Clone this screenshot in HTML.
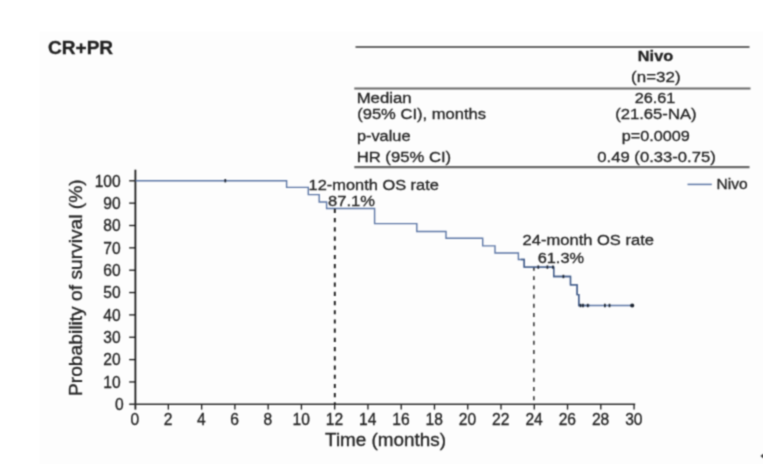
<!DOCTYPE html>
<html><head><meta charset="utf-8"><title>CR+PR OS</title>
<style>
html,body{margin:0;padding:0;background:#ffffff;}
body{width:763px;height:464px;overflow:hidden;font-family:"Liberation Sans",sans-serif;}
svg{display:block;}
</style></head><body>
<svg width="763" height="464" viewBox="0 0 763 464">
<rect x="0" y="0" width="763" height="464" fill="#ffffff"/>
<rect x="39.5" y="31.5" width="724" height="433" fill="#fdfdfd"/>
<defs><filter id="soft" filterUnits="userSpaceOnUse" x="0" y="0" width="763" height="464" color-interpolation-filters="sRGB">
<feConvolveMatrix order="3" kernelMatrix="0.04387 0.12171 0.04387 0.12171 0.33767 0.12171 0.04387 0.12171 0.04387" divisor="1" bias="0" edgeMode="duplicate" preserveAlpha="false"/>
</filter></defs>
<g filter="url(#soft)">
<g fill="#222222" stroke="#222222" stroke-width="0.3" font-family="Liberation Sans, sans-serif">
<text id="t_title" x="47.99" y="53.60" font-size="18" font-weight="bold" textLength="65.12" lengthAdjust="spacingAndGlyphs">CR+PR</text>
<text id="t_nivo" x="637.87" y="60.80" font-size="14" font-weight="bold" textLength="35.26" lengthAdjust="spacingAndGlyphs">Nivo</text>
<text id="t_n" x="631.14" y="82.00" font-size="15.5" font-weight="normal" textLength="49.51" lengthAdjust="spacingAndGlyphs">(n=32)</text>
<text id="t_med" x="356.65" y="103.30" font-size="15.5" font-weight="normal" textLength="54.94" lengthAdjust="spacingAndGlyphs">Median</text>
<text id="t_2661" x="634.67" y="103.30" font-size="15.5" font-weight="normal" textLength="40.77" lengthAdjust="spacingAndGlyphs">26.61</text>
<text id="t_ci" x="357.18" y="119.30" font-size="15.5" font-weight="normal" textLength="128.88" lengthAdjust="spacingAndGlyphs">(95% CI), months</text>
<text id="t_civ" x="615.16" y="119.30" font-size="15.5" font-weight="normal" textLength="81.42" lengthAdjust="spacingAndGlyphs">(21.65-NA)</text>
<text id="t_p" x="356.90" y="141.00" font-size="15.5" font-weight="normal" textLength="53.62" lengthAdjust="spacingAndGlyphs">p-value</text>
<text id="t_pv" x="621.73" y="141.00" font-size="15.5" font-weight="normal" textLength="68.13" lengthAdjust="spacingAndGlyphs">p=0.0009</text>
<text id="t_hr" x="356.67" y="161.70" font-size="15.5" font-weight="normal" textLength="94.49" lengthAdjust="spacingAndGlyphs">HR (95% CI)</text>
<text id="t_hrv" x="597.35" y="161.70" font-size="15.5" font-weight="normal" textLength="118.36" lengthAdjust="spacingAndGlyphs">0.49 (0.33-0.75)</text>
<text id="t_xl" x="325.10" y="446.40" font-size="18" font-weight="normal" textLength="120.96" lengthAdjust="spacingAndGlyphs">Time (months)</text>
<text id="t_leg" x="716.52" y="189.20" font-size="15" font-weight="normal" textLength="31.10" lengthAdjust="spacingAndGlyphs">Nivo</text>
<text id="t_a1" x="308.63" y="190.40" font-size="15.5" font-weight="normal" textLength="130.23" lengthAdjust="spacingAndGlyphs">12-month OS rate</text>
<text id="t_a2" x="328.09" y="206.40" font-size="15.5" font-weight="normal" textLength="46.93" lengthAdjust="spacingAndGlyphs">87.1%</text>
<text id="t_a3" x="522.64" y="244.80" font-size="15.5" font-weight="normal" textLength="131.31" lengthAdjust="spacingAndGlyphs">24-month OS rate</text>
<text id="t_a4" x="537.68" y="263.40" font-size="15.5" font-weight="normal" textLength="46.38" lengthAdjust="spacingAndGlyphs">61.3%</text>
<text x="120.70" y="186.60" font-size="15.6" text-anchor="end">100</text>
<text x="120.70" y="208.95" font-size="15.6" text-anchor="end">90</text>
<text x="120.70" y="231.30" font-size="15.6" text-anchor="end">80</text>
<text x="120.70" y="253.65" font-size="15.6" text-anchor="end">70</text>
<text x="120.70" y="276.00" font-size="15.6" text-anchor="end">60</text>
<text x="120.70" y="298.35" font-size="15.6" text-anchor="end">50</text>
<text x="120.70" y="320.70" font-size="15.6" text-anchor="end">40</text>
<text x="120.70" y="343.05" font-size="15.6" text-anchor="end">30</text>
<text x="120.70" y="365.40" font-size="15.6" text-anchor="end">20</text>
<text x="120.70" y="387.75" font-size="15.6" text-anchor="end">10</text>
<text x="123.80" y="410.10" font-size="15.6" text-anchor="end">0</text>
<text x="134.90" y="424.9" font-size="15.6" text-anchor="middle">0</text>
<text x="168.16" y="424.9" font-size="15.6" text-anchor="middle">2</text>
<text x="201.43" y="424.9" font-size="15.6" text-anchor="middle">4</text>
<text x="234.69" y="424.9" font-size="15.6" text-anchor="middle">6</text>
<text x="267.96" y="424.9" font-size="15.6" text-anchor="middle">8</text>
<text x="301.22" y="424.9" font-size="15.6" text-anchor="middle">10</text>
<text x="334.48" y="424.9" font-size="15.6" text-anchor="middle">12</text>
<text x="367.75" y="424.9" font-size="15.6" text-anchor="middle">14</text>
<text x="401.01" y="424.9" font-size="15.6" text-anchor="middle">16</text>
<text x="434.28" y="424.9" font-size="15.6" text-anchor="middle">18</text>
<text x="467.54" y="424.9" font-size="15.6" text-anchor="middle">20</text>
<text x="500.80" y="424.9" font-size="15.6" text-anchor="middle">22</text>
<text x="534.07" y="424.9" font-size="15.6" text-anchor="middle">24</text>
<text x="567.33" y="424.9" font-size="15.6" text-anchor="middle">26</text>
<text x="600.60" y="424.9" font-size="15.6" text-anchor="middle">28</text>
<text x="633.86" y="424.9" font-size="15.6" text-anchor="middle">30</text>
<text id="t_yl" transform="translate(81.6,396.07) rotate(-90)" font-size="18" textLength="216.83" lengthAdjust="spacingAndGlyphs">Probability of survival (%)</text>
</g>
<g stroke="#686868" stroke-width="2.2" fill="none">
<line x1="355.5" y1="47" x2="749.5" y2="47"/>
<line x1="354.3" y1="88.5" x2="750.5" y2="88.5"/>
<line x1="354.3" y1="167.1" x2="749.5" y2="167.1"/>
</g>
<g stroke="#161616" stroke-width="1.3" fill="none">
<line x1="135.4" y1="169.7" x2="135.4" y2="409.6" stroke-width="1.75"/>
<line x1="129.2" y1="404.30" x2="635.2" y2="404.30" stroke-width="1.4" stroke="#2c2c2c"/>
<line x1="129.2" y1="180.80" x2="135.4" y2="180.80"/>
<line x1="129.2" y1="203.15" x2="135.4" y2="203.15"/>
<line x1="129.2" y1="225.50" x2="135.4" y2="225.50"/>
<line x1="129.2" y1="247.85" x2="135.4" y2="247.85"/>
<line x1="129.2" y1="270.20" x2="135.4" y2="270.20"/>
<line x1="129.2" y1="292.55" x2="135.4" y2="292.55"/>
<line x1="129.2" y1="314.90" x2="135.4" y2="314.90"/>
<line x1="129.2" y1="337.25" x2="135.4" y2="337.25"/>
<line x1="129.2" y1="359.60" x2="135.4" y2="359.60"/>
<line x1="129.2" y1="381.95" x2="135.4" y2="381.95"/>
<line x1="168.36" y1="404.30" x2="168.36" y2="409.6"/>
<line x1="201.63" y1="404.30" x2="201.63" y2="409.6"/>
<line x1="234.89" y1="404.30" x2="234.89" y2="409.6"/>
<line x1="268.16" y1="404.30" x2="268.16" y2="409.6"/>
<line x1="301.42" y1="404.30" x2="301.42" y2="409.6"/>
<line x1="334.68" y1="404.30" x2="334.68" y2="409.6"/>
<line x1="367.95" y1="404.30" x2="367.95" y2="409.6"/>
<line x1="401.21" y1="404.30" x2="401.21" y2="409.6"/>
<line x1="434.48" y1="404.30" x2="434.48" y2="409.6"/>
<line x1="467.74" y1="404.30" x2="467.74" y2="409.6"/>
<line x1="501.00" y1="404.30" x2="501.00" y2="409.6"/>
<line x1="534.27" y1="404.30" x2="534.27" y2="409.6"/>
<line x1="567.53" y1="404.30" x2="567.53" y2="409.6"/>
<line x1="600.80" y1="404.30" x2="600.80" y2="409.6"/>
<line x1="634.06" y1="404.30" x2="634.06" y2="409.6"/>
</g>
<path d="M135.5 180.7 L286.6 180.7 L286.6 187.4 L308.3 187.4 L308.3 194.6 L319.2 194.6 L319.2 202.0 L326.6 202.0 L326.6 208.5 L374.6 208.5 L374.6 223.6 L416.8 223.6 L416.8 231.5 L446.0 231.5 L446.0 238.2 L482.7 238.2 L482.7 245.9 L495.0 245.9 L495.0 253.0 L518.4 253.0 L518.4 259.5 L524.2 259.5 L524.2 267.1 L553.7 267.1 L553.7 276.5 L570.5 276.5 L570.5 284.9 L577.1 284.9 L577.1 294.6 L578.8 294.6 L578.8 305.5 L632.3 305.5" stroke="#5d77a6" stroke-width="1.4" fill="none" stroke-linejoin="miter"/>
<line x1="687.5" y1="184.4" x2="711.8" y2="184.4" stroke="#5d77a6" stroke-width="1.5"/>
<line x1="334.8" y1="208.8" x2="334.8" y2="404.3" stroke="#1a1a1a" stroke-width="1.9" stroke-dasharray="4.2 5.015"/>
<line x1="533.9" y1="266.9" x2="533.9" y2="404.3" stroke="#1c1c1c" stroke-width="1.4" stroke-dasharray="3.9 5.34"/>
<path d="M521 259.5 H524.2 V267.1 H553.7 V276.5 H570.5 V284.9 H577.1 V294.6 H578.8 V305.5 H590" stroke="#425c88" stroke-width="1.35" fill="none"/>
<g stroke="#1c2430" stroke-width="1.7">
<line x1="225.3" y1="179.0" x2="225.3" y2="182.4"/>
<line x1="538.3" y1="265.4" x2="538.3" y2="268.8"/>
<line x1="547.4" y1="265.4" x2="547.4" y2="268.8"/>
<line x1="553.0" y1="265.4" x2="553.0" y2="268.8"/>
<line x1="563.4" y1="274.8" x2="563.4" y2="278.2"/>
<line x1="580.5" y1="303.8" x2="580.5" y2="307.2"/>
<line x1="583.0" y1="303.8" x2="583.0" y2="307.2"/>
<line x1="587.8" y1="303.8" x2="587.8" y2="307.2"/>
<line x1="604.9" y1="303.8" x2="604.9" y2="307.2"/>
<line x1="609.5" y1="303.8" x2="609.5" y2="307.2"/>
</g>
<circle cx="632.2" cy="305.5" r="2.05" fill="#1c2430"/>
<path d="M763 453.8 L760.4 456 L763 458.2 Z" fill="#444"/>
</g>
</svg>
</body></html>
